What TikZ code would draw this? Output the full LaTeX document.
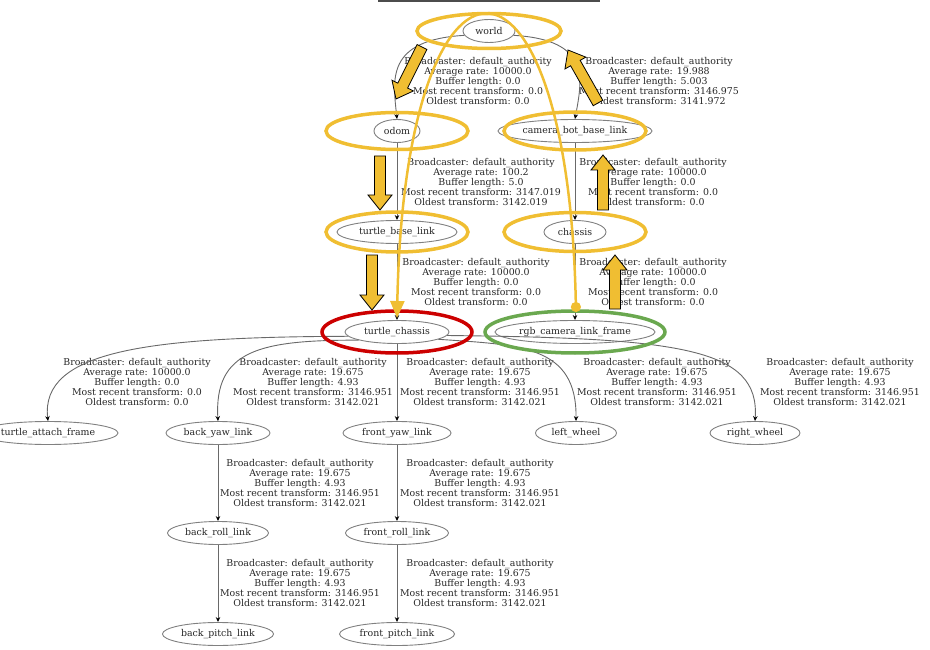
\documentclass[tikz,border=0pt]{standalone}
\usepackage{fontspec}
\setmainfont{DejaVu Serif}
\usetikzlibrary{shapes.geometric,arrows.meta,calc}

\definecolor{hiyellow}{RGB}{240,190,50}
\definecolor{hired}{RGB}{204,0,0}
\definecolor{higreen}{RGB}{106,168,79}
\definecolor{edgegray}{RGB}{105,105,105}

% text of one transform edge
\newcommand{\tfinfo}[4]{Broadcaster: default\_authority\\Average rate: #1\\Buffer length: #2\\Most recent transform: #3\\Oldest transform: #4}

% yellow block arrow from tail to tip
\newcommand{\fatarrow}[2]{%
  \filldraw[bigarrow] let \p1=(#1), \p2=(#2),
    \n1={atan2(\y2-\y1,\x2-\x1)}, \n2={veclen(\x2-\x1,\y2-\y1)} in
    [shift={(\p1)}, rotate=\n1]
    (0,5.5) -- (\n2-15,5.5) -- (\n2-15,12) -- (\n2,0) -- (\n2-15,-12)
    -- (\n2-15,-5.5) -- (0,-5.5) -- cycle;}

\tikzset{
  frame/.style={ellipse, draw=gray, line width=0.9pt, inner xsep=0pt,
    inner ysep=0pt, minimum height=23pt, minimum width=#1,
    font=\fontsize{9.4}{10}\selectfont, text=black!85},
  frame/.default=46pt,
  info/.style={align=center, inner sep=0pt,
    font=\fontsize{9.4}{10}\selectfont, text=black!85},
  tfedge/.style={draw=edgegray, line width=0.9pt,
    -{Stealth[length=5pt,width=4.5pt,color=black]}},
  ring/.style={draw=hiyellow, line width=3.5pt},
  bigarrow/.style={draw=black, fill=hiyellow, line width=0.8pt},
}

\begin{document}
\begin{tikzpicture}[x=1pt,y=1pt]
  \useasboundingbox (0,0) rectangle (930,-650);
  \draw[line width=2pt, black!70] (378,-1) -- (600,-1);

  % frames
  \node[frame=52pt] (world) at (489,-31) {world};
  \node[frame] (odom) at (397,-131) {odom};
  \node[frame=154pt] (cambase) at (575,-131) {camera\_bot\_base\_link};
  \node[frame=120pt] (tbase) at (397,-232) {turtle\_base\_link};
  \node[frame=62pt] (chassis) at (575,-232) {chassis};
  \node[frame=104pt] (tchassis) at (397,-332) {turtle\_chassis};
  \node[frame=160pt] (rgbframe) at (575,-332) {rgb\_camera\_link\_frame};
  \node[frame=140pt] (attach) at (48,-433) {turtle\_attach\_frame};
  \node[frame=104pt] (backyaw) at (218,-433) {back\_yaw\_link};
  \node[frame=108pt] (frontyaw) at (397,-433) {front\_yaw\_link};
  \node[frame=81pt] (lwheel) at (576,-433) {left\_wheel};
  \node[frame=90pt] (rwheel) at (755,-433) {right\_wheel};
  \node[frame=101pt] (backroll) at (218,-533) {back\_roll\_link};
  \node[frame=103pt] (frontroll) at (397,-533) {front\_roll\_link};
  \node[frame=111pt] (backpitch) at (218,-634) {back\_pitch\_link};
  \node[frame=115pt] (frontpitch) at (397,-634) {front\_pitch\_link};

  % edge texts
  \node[info] (i1) at (478,-81) {\tfinfo{10000.0}{0.0}{0.0}{0.0}};
  \node[info] (i2) at (659,-81) {\tfinfo{19.988}{5.003}{3146.975}{3141.972}};
  \node[info] (i3) at (481,-182) {\tfinfo{100.2}{5.0}{3147.019}{3142.019}};
  \node[info] (i4) at (653,-182) {\tfinfo{10000.0}{0.0}{0.0}{0.0}};
  \node[info] (i5) at (476,-282) {\tfinfo{10000.0}{0.0}{0.0}{0.0}};
  \node[info] (i6) at (653,-282) {\tfinfo{10000.0}{0.0}{0.0}{0.0}};
  \node[info] (i7) at (137,-382) {\tfinfo{10000.0}{0.0}{0.0}{0.0}};
  \node[info] (i8) at (313,-382) {\tfinfo{19.675}{4.93}{3146.951}{3142.021}};
  \node[info] (i9) at (480,-382) {\tfinfo{19.675}{4.93}{3146.951}{3142.021}};
  \node[info] (i10) at (657,-382) {\tfinfo{19.675}{4.93}{3146.951}{3142.021}};
  \node[info] (i11) at (840,-382) {\tfinfo{19.675}{4.93}{3146.951}{3142.021}};
  \node[info] (i12) at (300,-483) {\tfinfo{19.675}{4.93}{3146.951}{3142.021}};
  \node[info] (i13) at (480,-483) {\tfinfo{19.675}{4.93}{3146.951}{3142.021}};
  \node[info] (i14) at (300,-583) {\tfinfo{19.675}{4.93}{3146.951}{3142.021}};
  \node[info] (i15) at (480,-583) {\tfinfo{19.675}{4.93}{3146.951}{3142.021}};

  % transforms
  \draw[tfedge] (world.190) .. controls (385,-40) and (393,-80) .. (odom.north);
  \draw[tfedge] (world.-10) .. controls (592,-40) and (582,-80) .. (cambase.north);
  \draw[tfedge] (odom) -- (tbase);
  \draw[tfedge] (cambase) -- (chassis);
  \draw[tfedge] (tbase) -- (tchassis);
  \draw[tfedge] (chassis) -- (rgbframe);
  \draw[tfedge] (tchassis.185) .. controls (150,-337) and (40,-350) .. (attach.north);
  \draw[tfedge] (tchassis.192) .. controls (260,-340) and (214,-350) .. (backyaw.north);
  \draw[tfedge] (tchassis) -- (frontyaw);
  \draw[tfedge] (tchassis.-10) .. controls (520,-345) and (577,-345) .. (lwheel.north);
  \draw[tfedge] (tchassis.-4) .. controls (680,-338) and (760,-348) .. (rwheel.north);
  \draw[tfedge] (backyaw) -- (backroll);
  \draw[tfedge] (frontyaw) -- (frontroll);
  \draw[tfedge] (backroll) -- (backpitch);
  \draw[tfedge] (frontroll) -- (frontpitch);

  % highlights
  \draw[ring] (world) ellipse [x radius=72pt, y radius=17.5pt];
  \draw[ring] (odom) ellipse [x radius=71pt, y radius=18.5pt];
  \draw[ring] (cambase) ellipse [x radius=71pt, y radius=19pt];
  \draw[ring] (tbase) ellipse [x radius=71pt, y radius=20pt];
  \draw[ring] (chassis) ellipse [x radius=71pt, y radius=19.5pt];
  \draw[ring, draw=hired] (tchassis) ellipse [x radius=75pt, y radius=21pt];
  \draw[ring, draw=higreen] (rgbframe) ellipse [x radius=90pt, y radius=21pt];

  \coordinate (camdot) at (576,-312);
  \coordinate (tctip) at (397,-318);
  \draw[hiyellow, line width=2.5pt, {Circle[length=10pt]}-{Triangle[length=17pt,width=14pt]}]
    (camdot) .. controls (568,83) and (405,83) .. (tctip);

  \coordinate (f1a) at (422,-47);  \coordinate (f1b) at (396,-99);
  \coordinate (f2a) at (598,-103); \coordinate (f2b) at (568,-50);
  \coordinate (f3a) at (380,-156); \coordinate (f3b) at (380,-210);
  \coordinate (f4a) at (372,-255); \coordinate (f4b) at (372,-310);
  \coordinate (f5a) at (603,-210); \coordinate (f5b) at (603,-155);
  \coordinate (f6a) at (615,-309); \coordinate (f6b) at (615,-255);
  \fatarrow{f1a}{f1b}
  \fatarrow{f2a}{f2b}
  \fatarrow{f3a}{f3b}
  \fatarrow{f4a}{f4b}
  \fatarrow{f5a}{f5b}
  \fatarrow{f6a}{f6b}
\end{tikzpicture}
\end{document}
